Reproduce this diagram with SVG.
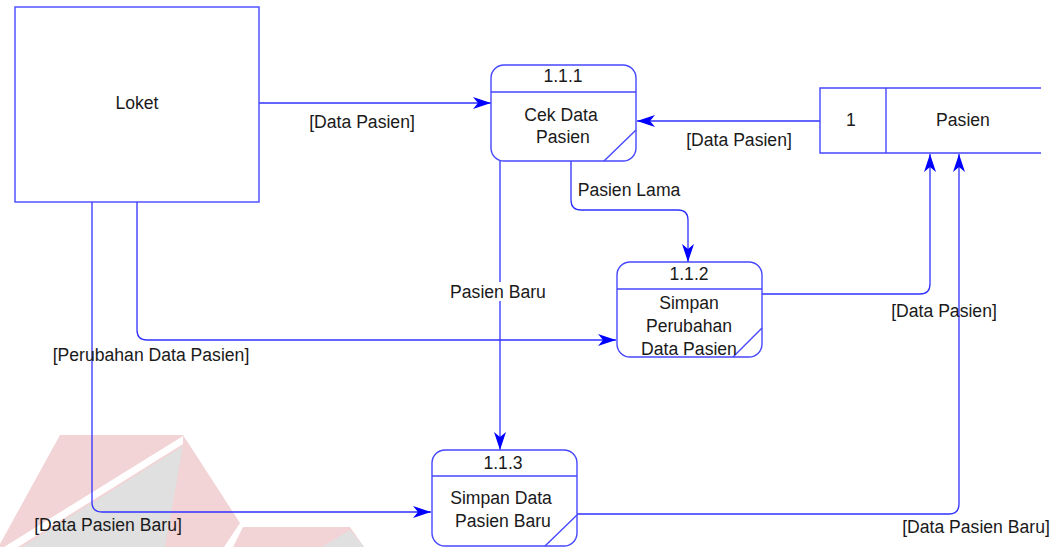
<svg xmlns="http://www.w3.org/2000/svg" width="1056" height="547" viewBox="0 0 1056 547">
<style>
text{font-family:"Liberation Sans",Arial,sans-serif;font-size:17.6px;fill:#1a1a1a;text-anchor:middle}
.box{fill:#fff;stroke:#4747ff;stroke-width:1.4}
.ln{fill:none;stroke:#4747ff;stroke-width:1.4}
.c{fill:none;stroke:#3030ff;stroke-width:1.3}
.wp{fill:#f2d3d6}
.wg{fill:#e0e0e0}
</style>
<defs>
<marker id="ah" viewBox="-20 -7 22 14" refX="0" refY="0" markerWidth="22" markerHeight="14" markerUnits="userSpaceOnUse" orient="auto">
<path d="M0,0 L-18,-6 L-13,0 L-18,6 Z" fill="#0000ff"/>
</marker>
</defs>
<g id="watermark">
<polygon class="wp" points="60,435 183,435 240,523 224,547 0,547 0,544"/>
<polygon points="183,436 4,547 18,547 183,444" fill="#fff"/>
<polygon class="wg" points="183,446 22,547 165,547"/>
<polygon class="wp" points="243,527 350,527 364,547 233,547"/>
<polygon class="wg" points="350,530 322,547 364,547"/>
</g>
<g id="connectors">
<path class="c" d="M259,103 H491" marker-end="url(#ah)"/>
<path class="c" d="M820,121 H637" marker-end="url(#ah)"/>
<path class="c" d="M571,161 V200 Q571,210 581,210 H678 Q688,210 688,220 V262" marker-end="url(#ah)"/>
<path class="c" d="M500,161 V450" marker-end="url(#ah)"/>
<path class="c" d="M137,202 V330 Q137,340 147,340 H616" marker-end="url(#ah)"/>
<path class="c" d="M92,202 V502 Q92,512 102,512 H431" marker-end="url(#ah)"/>
<path class="c" d="M762,294 H920 Q930,294 930,284 V154" marker-end="url(#ah)"/>
<path class="c" d="M577,514 H949 Q959,514 959,504 V154" marker-end="url(#ah)"/>
<text x="362" y="128">[Data Pasien]</text>
<text x="739" y="146">[Data Pasien]</text>
<text x="629" y="196">Pasien Lama</text>
<rect x="446" y="282" width="104" height="19" fill="#fff"/>
<text x="498" y="298">Pasien Baru</text>
<text x="151" y="361">[Perubahan Data Pasien]</text>
<text x="944" y="317">[Data Pasien]</text>
<text x="108" y="531">[Data Pasien Baru]</text>
<text x="976" y="533">[Data Pasien Baru]</text>
</g>
<g id="loket">
<rect class="box" x="15" y="7" width="244" height="195"/>
<text x="137" y="109">Loket</text>
</g>
<g id="p111">
<rect class="box" x="491" y="65" width="145" height="96" rx="13"/>
<path class="ln" d="M491,92 H636 M636,130 L604,161"/>
<text x="563" y="82">1.1.1</text>
<text x="561" y="121">Cek Data</text>
<text x="563" y="143">Pasien</text>
</g>
<g id="p112">
<rect class="box" x="617" y="262" width="145" height="95" rx="13"/>
<path class="ln" d="M617,289 H762 M762,328 L733,357"/>
<text x="689" y="280">1.1.2</text>
<text x="689" y="309">Simpan</text>
<text x="689" y="332">Perubahan</text>
<text x="689" y="355">Data Pasien</text>
</g>
<g id="p113">
<rect class="box" x="432" y="450" width="145" height="96" rx="13"/>
<path class="ln" d="M432,476 H577 M577,515 L545,546"/>
<text x="503" y="469">1.1.3</text>
<text x="501" y="504">Simpan Data</text>
<text x="503" y="527">Pasien Baru</text>
</g>
<g id="store">
<path class="ln" d="M1041,88 H820 V153 H1041 M886,88 V153"/>
<text x="851" y="126">1</text>
<text x="963" y="126">Pasien</text>
</g>
</svg>
